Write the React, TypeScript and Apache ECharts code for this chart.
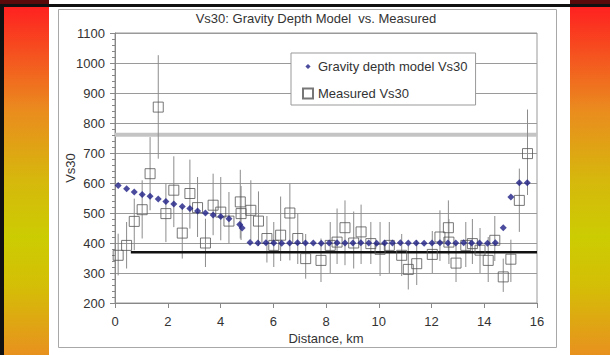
import React, { useEffect, useRef } from "react";
import * as echarts from "echarts";

// ---- data ----
const titleText = "Vs30: Gravity Depth Model  vs. Measured";
const modelName = "Gravity depth model Vs30";
const measuredName = "Measured Vs30";

const modelDistance = [
  0.12, 0.44, 0.73, 1.03, 1.33, 1.64, 1.93, 2.23, 2.55, 2.84, 3.13, 3.43, 3.72, 4.01, 4.32, 4.73, 4.82,
  5.12, 5.42, 5.72, 6.02, 6.32, 6.62, 6.92, 7.22, 7.52, 7.82, 8.12, 8.42, 8.72, 9.02, 9.32, 9.62, 9.92,
  10.22, 10.52, 10.82, 11.12, 11.42, 11.72, 12.02, 12.32, 12.62, 12.92, 13.22, 13.52, 13.82, 14.12, 14.42,
  14.72, 15.01, 15.33, 15.63,
];
const modelVs30 = [
  592, 581, 570, 562, 556, 547, 538, 530, 522, 515, 507, 500, 493, 488, 481, 462, 450,
  402, 400, 401, 400, 399, 400, 401, 400, 400, 399, 400, 401, 400, 400, 401, 400, 399,
  400, 400, 401, 400, 400, 399, 400, 401, 400, 400, 401, 400, 400, 399, 401,
  451, 553, 601, 601,
];

const measDistance = [
  0.12, 0.44, 0.73, 1.03, 1.33, 1.64, 1.93, 2.23, 2.55, 2.84, 3.13, 3.43, 3.72, 4.01, 4.32, 4.75, 4.78,
  5.15, 5.44, 5.76, 6.02, 6.28, 6.63, 6.93, 7.23, 7.81, 8.16, 8.42, 8.72, 9.05, 9.33, 9.7, 10.05, 10.4,
  10.87, 11.12, 11.44, 12.03, 12.32, 12.64, 12.66, 12.93, 13.3, 13.55, 13.84, 14.15, 14.4, 14.72, 15.01,
  15.33, 15.64,
];
const measVs30 = [
  359, 392, 472, 511, 631, 853, 498, 576, 433, 565, 518, 400, 526, 503, 473, 537, 498,
  509, 473, 415, 392, 426, 500, 415, 348, 342, 392, 403, 451, 400, 437, 398, 379, 392,
  359, 312, 331, 362, 420, 451, 403, 333, 392, 398, 376, 342, 409, 287, 346,
  542, 698,
];
const measLow = [
  292, 315, 376, 415, 509, 681, 403, 453, 348, 448, 420, 320, 426, 409, 398, 415, 410,
  410, 390, 335, 320, 340, 342, 330, 281, 270, 300, 330, 326, 315, 330, 330, 290, 300,
  290, 245, 260, 300, 340, 360, 330, 270, 320, 330, 300, 270, 340, 237, 270,
  437, 560,
];
const measHigh = [
  431, 470, 548, 609, 753, 1026, 598, 689, 520, 678, 620, 481, 631, 620, 570, 644, 590,
  609, 572, 490, 470, 555, 598, 500, 430, 415, 470, 515, 542, 505, 528, 470, 470, 470,
  430, 390, 410, 440, 509, 542, 480, 400, 470, 480, 450, 420, 490, 348, 411,
  648, 845,
];

const grayLineVs30 = 761;
const grayLineRange = [0, 16];
const blackLineVs30 = 369;
const blackLineRange = [0.6, 16];

const gradStops = [
  { offset: 0, color: "#ff2020" },
  { offset: 0.3, color: "#ea8c1e" },
  { offset: 0.5, color: "#d6b80c" },
  { offset: 0.66, color: "#cccc02" },
  { offset: 0.8, color: "#d4bf06" },
  { offset: 1, color: "#e8911e" },
];

export default function App() {
  const ref = useRef<HTMLDivElement>(null);
  useEffect(() => {
    if (!ref.current) return;
    const chart = echarts.init(ref.current, undefined, { renderer: "svg" });
    const font = "Liberation Sans, Arial, sans-serif";
    const grad = () => new echarts.graphic.LinearGradient(0, 0, 0, 1, gradStops);
    const option: any = {
      animation: false,
      backgroundColor: "#ffffff",
      textStyle: { fontFamily: font },
      title: {
        text: titleText,
        left: 311,
        top: 7,
        textAlign: "center",
        textStyle: { fontSize: 13, fontWeight: "normal", color: "#333", fontFamily: font },
      },
      graphic: [
        { type: "rect", shape: { x: 4, y: 6, width: 45, height: 349 }, style: { fill: grad() } },
        { type: "rect", shape: { x: 570, y: 6, width: 40, height: 349 }, style: { fill: grad() } },
        { type: "rect", shape: { x: 0, y: 4, width: 610, height: 3 }, style: { fill: "#111" } },
        { type: "rect", shape: { x: 0, y: 4, width: 4, height: 351 }, style: { fill: "#111" } },
        { type: "rect", shape: { x: 0, y: 0, width: 49, height: 4 }, style: { fill: "#5a0a0a" } },
        { type: "rect", shape: { x: 570, y: 0, width: 40, height: 4 }, style: { fill: "#5a0a0a" } },
        {
          type: "rect",
          shape: { x: 58.5, y: 9.5, width: 498, height: 338 },
          style: { fill: "none", stroke: "#a8a8a8", lineWidth: 1 },
        },
      ],
      legend: {
        orient: "vertical",
        left: 291,
        top: 53,
        padding: [7, 8, 5, 11],
        itemGap: 14,
        itemWidth: 10,
        itemHeight: 10,
        backgroundColor: "#fff",
        borderColor: "#999",
        borderWidth: 1,
        textStyle: { fontSize: 13, color: "#333", fontFamily: font },
        data: [
          { name: modelName, icon: "path://M0,0M10,10M5,2.4L7.6,5L5,7.6L2.4,5Z" },
          { name: measuredName, icon: "rect" },
        ],
      },
      grid: {
        left: 115,
        top: 33,
        width: 422,
        height: 270,
        show: true,
        borderColor: "#999",
        borderWidth: 1,
      },
      xAxis: {
        type: "value",
        min: 0,
        max: 16,
        interval: 2,
        name: "Distance, km",
        nameLocation: "middle",
        nameGap: 29,
        nameMoveOverlap: false,
        nameTextStyle: { fontSize: 13, color: "#333", fontFamily: font },
        axisLine: { lineStyle: { color: "#888" } },
        axisTick: { show: true, length: 5, lineStyle: { color: "#888" } },
        axisLabel: { fontSize: 13, color: "#333", margin: 12, fontFamily: font },
        splitLine: { show: false },
      },
      yAxis: {
        type: "value",
        min: 200,
        max: 1100,
        interval: 100,
        name: "Vs30",
        nameLocation: "middle",
        nameRotate: 90,
        nameGap: 38,
        nameMoveOverlap: false,
        nameTextStyle: { fontSize: 13, color: "#333", fontFamily: font },
        axisLine: { show: true, lineStyle: { color: "#888" } },
        axisTick: { show: true, length: 5, lineStyle: { color: "#888" } },
        minorTick: { show: true, splitNumber: 5, length: 3, lineStyle: { color: "#888" } },
        axisLabel: {
          fontSize: 13,
          color: "#333",
          margin: 10,
          fontFamily: font,
          formatter: (v: number) => String(v),
        },
        splitLine: { show: true, lineStyle: { color: "#9a9a9a", width: 1 } },
      },
      series: [
        {
          type: "line",
          name: "grayline",
          data: grayLineRange.map((x) => [x, grayLineVs30]),
          showSymbol: false,
          symbol: "none",
          lineStyle: { color: "#c4c4c4", width: 4 },
          z: 1,
          silent: true,
        },
        {
          type: "custom",
          name: "errorbars",
          data: measDistance.map((d, i) => [d, measLow[i], measHigh[i]]),
          encode: { x: 0, y: [1, 2] },
          renderItem: (params: any, api: any) => {
            const x = api.value(0);
            const lo = api.coord([x, api.value(1)]);
            const hi = api.coord([x, api.value(2)]);
            return {
              type: "line",
              shape: { x1: lo[0], y1: lo[1], x2: hi[0], y2: hi[1] },
              style: { stroke: "#8c8c8c", lineWidth: 1 },
            };
          },
          z: 2,
          silent: true,
        },
        {
          type: "line",
          name: "blackline",
          data: blackLineRange.map((x) => [x, blackLineVs30]),
          showSymbol: false,
          symbol: "none",
          lineStyle: { color: "#111", width: 2.5 },
          z: 3,
          silent: true,
        },
        {
          type: "scatter",
          name: measuredName,
          data: measDistance.map((d, i) => [d, measVs30[i]]),
          symbol: "rect",
          symbolSize: 10,
          itemStyle: { color: "rgba(255,255,255,0)", borderColor: "#555", borderWidth: 1 },
          z: 4,
        },
        {
          type: "scatter",
          name: modelName,
          data: modelDistance.map((d, i) => [d, modelVs30[i]]),
          symbol: "diamond",
          symbolSize: 7,
          itemStyle: { color: "#1f1f86" },
          z: 5,
        },
      ],
    };
    chart.setOption(option);
    return () => chart.dispose();
  }, []);
  return (
    <div
      ref={ref}
      style={{ position: "fixed", left: 0, top: 0, width: 610, height: 355 }}
    />
  );
}
